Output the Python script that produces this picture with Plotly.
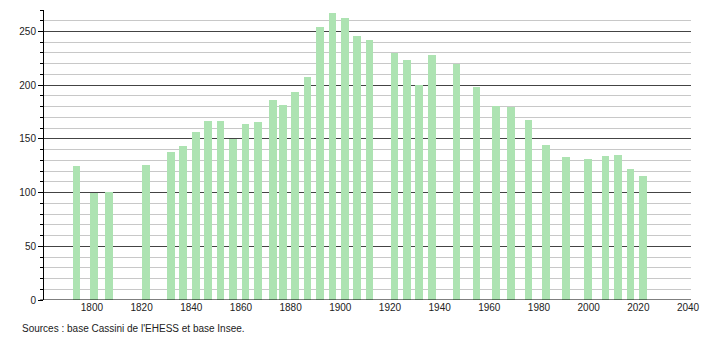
import plotly.graph_objects as go

years = [1793, 1800, 1806, 1821, 1831, 1836, 1841, 1846, 1851, 1856,
         1861, 1866, 1872, 1876, 1881, 1886, 1891, 1896, 1901, 1906,
         1911, 1921, 1926, 1931, 1936, 1946, 1954, 1962, 1968, 1975,
         1982, 1990, 1999, 2006, 2011, 2016, 2021]
population = [125, 100, 101, 126, 138, 143, 156, 167, 167, 150,
              164, 166, 186, 182, 194, 208, 254, 267, 263, 246,
              242, 230, 223, 200, 228, 220, 198, 181, 180, 168,
              144, 133, 131, 134, 135, 122, 115]
x_ticks = [1800, 1820, 1840, 1860, 1880, 1900, 1920, 1940, 1960, 1980, 2000, 2020, 2040]
y_ticks = [0, 50, 100, 150, 200, 250]
source_text = "Sources : base Cassini de l'EHESS et base Insee."

fig = go.Figure()
fig.add_trace(go.Bar(
    x=years, y=population, width=3.1,
    marker=dict(color="#ade3b2", line=dict(width=0)),
    hoverinfo="x+y",
))

fig.update_layout(
    width=710, height=340,
    margin=dict(l=44, r=10, t=10, b=40),
    plot_bgcolor="white", paper_bgcolor="white",
    showlegend=False,
    font=dict(family="Liberation Sans, Arial, sans-serif", size=10, color="#222"),
    bargap=0,
    xaxis=dict(
        range=[1779.9, 2040.4],
        tickvals=x_ticks, ticktext=[str(v) for v in x_ticks],
        showgrid=False, zeroline=False,
        showline=False, ticks="",
        ticklabelshift=-2,
        tickfont=dict(size=10),
    ),
    yaxis=dict(
        range=[0, 270],
        tickvals=y_ticks,
        showgrid=True, gridcolor="#444444", gridwidth=1,
        zeroline=False,
        showline=True, linecolor="black", linewidth=1,
        ticks="outside", ticklen=5, tickcolor="black",
        tickfont=dict(size=10),
        minor=dict(dtick=10, showgrid=True, gridcolor="#c8c8c8", gridwidth=1,
                   ticks="outside", ticklen=3, tickcolor="black"),
    ),
)

fig.add_shape(type="line", xref="paper", yref="y", x0=-0.006, x1=1, y0=0, y1=0,
              line=dict(color="black", width=1.2))

fig.add_annotation(
    text=source_text, xref="paper", yref="paper",
    x=-24/656, y=-21/290, xanchor="left", yanchor="top",
    showarrow=False, font=dict(size=10, color="#222"),
)

fig.write_html("out.html")
